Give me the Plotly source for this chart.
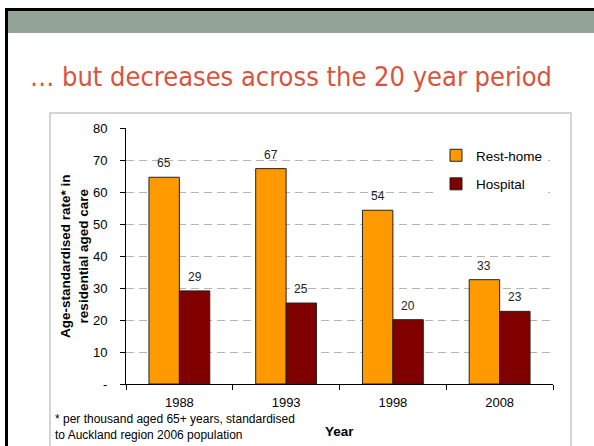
import plotly.graph_objects as go

years = ["1988", "1993", "1998", "2008"]
rest_home = [64.6, 67.3, 54.3, 32.6]
hospital = [29.1, 25.3, 20.1, 22.7]
rest_labels = ["65", "67", "54", "33"]
hosp_labels = ["29", "25", "20", "23"]
y_tickvals = [0, 10, 20, 30, 40, 50, 60, 70, 80]
y_ticktext = ["-", "10", "20", "30", "40", "50", "60", "70", "80"]

W, H = 594, 446
L, R, T, B = 126, 553, 128, 384
PW, PH = R - L, B - T


def px_x(p):
    return (p - L) / PW


def px_y(p):
    return (B - p) / PH


FONT = "Liberation Sans, Arial, sans-serif"
ORANGE = "#FF9900"
MAROON = "#800000"

fig = go.Figure()
fig.add_trace(go.Bar(name="Rest-home", x=years, y=rest_home, marker=dict(color=ORANGE, line=dict(color="#222222", width=1)),
                     legendgroup="a", hoverinfo="skip"))
fig.add_trace(go.Bar(name="Hospital", x=years, y=hospital, marker=dict(color=MAROON, line=dict(color="#222222", width=1)),
                     legendgroup="b", hoverinfo="skip"))

annotations = []
for i, (v, lab) in enumerate(zip(rest_home, rest_labels)):
    annotations.append(dict(x=i, y=v, xref="x", yref="y", text=lab, showarrow=False, xshift=-15.25, yshift=14,
                            yanchor="middle", font=dict(family=FONT, size=12, color="#222222")))
for i, (v, lab) in enumerate(zip(hospital, hosp_labels)):
    annotations.append(dict(x=i, y=v, xref="x", yref="y", text=lab, showarrow=False, xshift=15.25, yshift=14,
                            yanchor="middle", font=dict(family=FONT, size=12, color="#222222")))

# y axis title
annotations.append(dict(x=px_x(74), y=0.5, xref="paper", yref="paper", text="<b>Age-standardised rate* in<br>residential aged care</b>",
                        textangle=-90, showarrow=False, xanchor="center", yanchor="middle",
                        font=dict(family=FONT, size=13.5, color="#000000")))
# x axis title
annotations.append(dict(x=0.5, y=px_y(431), xref="paper", yref="paper", text="<b>Year</b>", showarrow=False,
                        xanchor="center", yanchor="middle", font=dict(family=FONT, size=13.5, color="#000000")))
# footnote
annotations.append(dict(x=px_x(53), y=px_y(427), xref="paper", yref="paper",
                        text="* per thousand aged 65+ years, standardised<br>to Auckland region 2006 population",
                        showarrow=False, xanchor="left", yanchor="middle", align="left",
                        font=dict(family=FONT, size=12, color="#000000")))
# slide title
annotations.append(dict(x=px_x(28), y=px_y(76), xref="paper", yref="paper",
                        text="… but decreases across the 20 year period", showarrow=False,
                        xanchor="left", yanchor="middle",
                        font=dict(family="DejaVu Sans Condensed, DejaVu Sans, sans-serif", size=27, color="#D9533E")))

shapes = [
    dict(type="rect", xref="paper", yref="paper", x0=px_x(8), x1=px_x(600), y0=px_y(11), y1=px_y(33),
         fillcolor="#93A398", line=dict(width=0), layer="below"),
    dict(type="rect", xref="paper", yref="paper", x0=px_x(5), x1=px_x(600), y0=px_y(8), y1=px_y(11),
         fillcolor="#000000", line=dict(width=0), layer="below"),
    dict(type="rect", xref="paper", yref="paper", x0=px_x(5), x1=px_x(8), y0=px_y(8), y1=px_y(460),
         fillcolor="#000000", line=dict(width=0), layer="below"),
    dict(type="rect", xref="paper", yref="paper", x0=px_x(50), x1=px_x(571), y0=px_y(113), y1=px_y(470),
         fillcolor="rgba(0,0,0,0)", line=dict(color="#C8C8C8", width=1.5), layer="below"),
]

fig.update_layout(
    width=W, height=H,
    margin=dict(l=L, r=W - R, t=T, b=H - B, autoexpand=False),
    paper_bgcolor="white", plot_bgcolor="white",
    barmode="group", bargap=0.43, bargroupgap=0,
    showlegend=True,
    legend=dict(x=px_x(436), y=px_y(140), xanchor="left", yanchor="top", bgcolor="#FFFFFF",
                font=dict(family=FONT, size=13.5, color="#000000"), tracegroupgap=8, itemwidth=30),
    annotations=annotations,
    shapes=shapes,
    font=dict(family=FONT),
)
fig.update_xaxes(
    type="category", range=[-0.5, len(years) - 0.5], showline=True, linecolor="#000000", linewidth=1,
    ticks="outside", ticklen=5, tickcolor="#000000", tickson="boundaries", showgrid=False,
    tickfont=dict(family=FONT, size=13, color="#000000"), ticklabelstandoff=6,
)
fig.update_yaxes(
    range=[0, 80], tickvals=y_tickvals, ticktext=y_ticktext, showline=True, linecolor="#000000", linewidth=1,
    ticks="outside", ticklen=5, tickcolor="#000000", showgrid=True, gridcolor="#B4B4B4", griddash="8px,5px",
    gridwidth=1, zeroline=False, tickfont=dict(family=FONT, size=13, color="#000000"), ticklabelstandoff=10,
)

fig.write_html("out.html", config={"displayModeBar": False},
               post_script="document.body.style.margin='0';document.body.style.padding='0';")
